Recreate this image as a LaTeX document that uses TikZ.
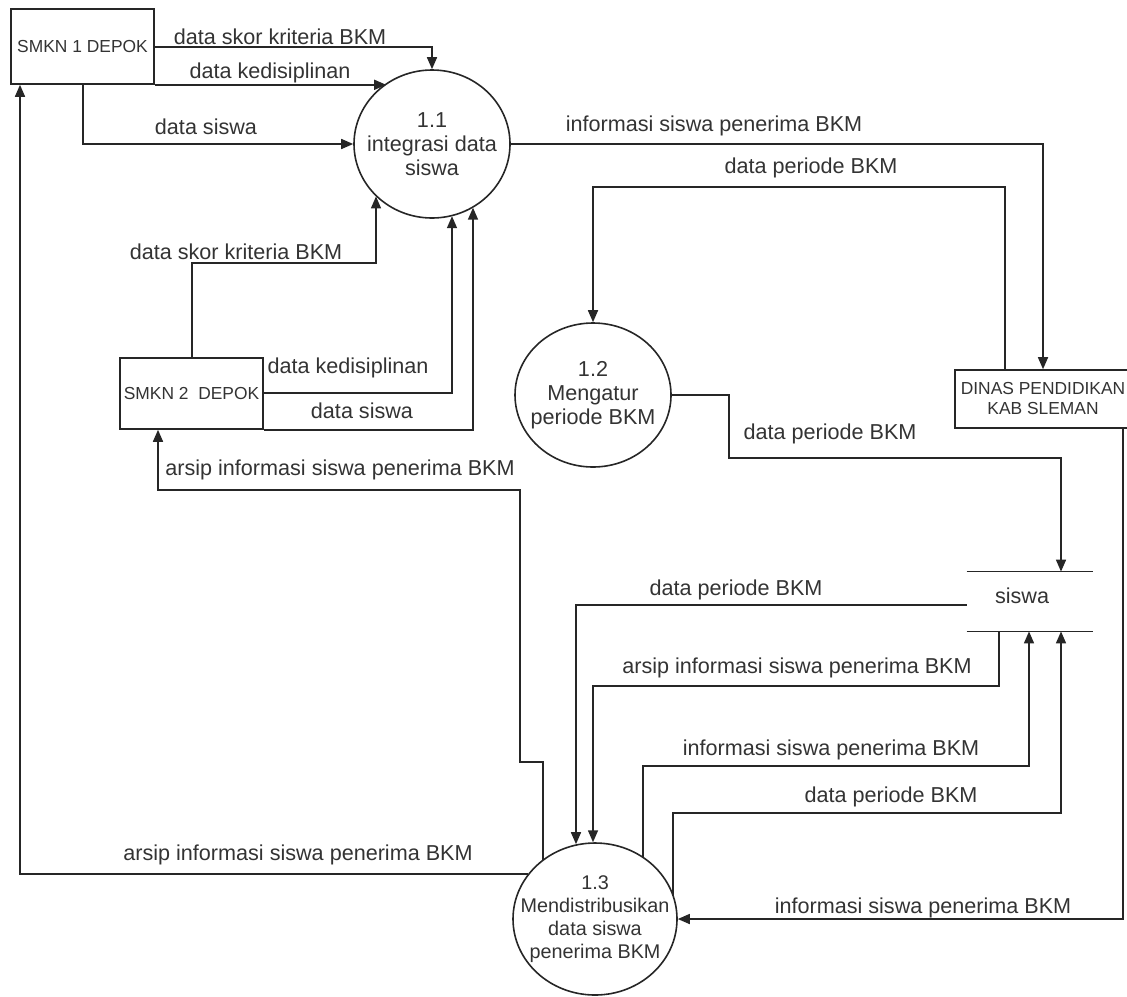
\documentclass[tikz,border=0pt]{standalone}
\usepackage{fontspec}
\setmainfont{Liberation Sans}
\usetikzlibrary{shapes.geometric,arrows.meta}
\begin{document}
\begin{tikzpicture}[x=0.5pt,y=-0.5pt,
  ln/.style={draw=black!85, line width=0.8pt},
  flow/.style={ln, -{Triangle[length=6pt,width=5pt]}},
  ent/.style={draw=black!85, line width=0.8pt, rectangle, inner sep=0pt,
    font=\fontsize{8.7}{10}\selectfont, align=center, text=black!80},
  proc/.style={draw=black!85, line width=0.8pt, ellipse, inner sep=0pt},
  ptext/.style={font=\fontsize{10.8}{12}\selectfont, align=center, text=black!80, inner sep=0pt},
  lab/.style={font=\fontsize{10.8}{12}\selectfont, text=black!80, inner sep=0pt},
]
\useasboundingbox (0,0) rectangle (1127,996);

% external entities
\node[ent, minimum width=71.5pt, minimum height=37.5pt] (s1) at (82.5,46.5) {SMKN 1 DEPOK};
\node[ent, minimum width=71.5pt, minimum height=35.5pt] (s2) at (191.5,393.5) {SMKN 2\ \ DEPOK};
\node[ent, minimum width=88pt, minimum height=29pt] (dn) at (1043,399) {DINAS PENDIDIKAN\\KAB SLEMAN};

% processes
\node[proc, minimum width=78pt, minimum height=74pt] (c11) at (432,144) {};
\node[ptext] at (c11) {1.1\\integrasi data\\siswa};
\node[proc, minimum width=78pt, minimum height=72pt] (c12) at (593,395) {};
\node[ptext] at (c12) {1.2\\Mengatur\\periode BKM};
\node[proc, minimum width=82pt, minimum height=76pt] (c13) at (595,919) {};
\node[ptext, font=\fontsize{9.9}{11.5}\selectfont] at (c13) {1.3\\Mendistribusikan\\data siswa\\penerima BKM};

% data store
\node[minimum width=63pt, minimum height=29.5pt, inner sep=0pt] (ds) at (1030,601.5) {};
\draw[ln] (ds.north west) -- (ds.north east);
\draw[ln] (ds.south west) -- (ds.south east);
\node[lab] at (1022,596) {siswa};

% flows SMKN 1 -> 1.1
\draw[flow] (s1.east |- 0,47) -| (c11.north);
\draw[flow] (s1.south east) -- (c11.127 |- s1.south east);
\draw[flow] (s1.south -| 83,0) |- (c11.west);
\node[lab] at (280,37) {data skor kriteria BKM};
\node[lab] at (270,73) {data kedisiplinan};
\node[lab] at (206,127) {data siswa};

% 1.1 -> DINAS
\draw[flow] (c11.east) -| (dn.north -| 1043,0);
\node[lab] at (714,126) {informasi siswa penerima BKM};

% DINAS -> 1.2
\draw[flow] (dn.north -| 1005,0) |- (c12.north |- 0,187) -- (c12.north);
\node[lab] at (811,168) {data periode BKM};

% SMKN 2 -> 1.1
\draw[flow] (s2.north -| 192,0) |- (376,263) -- (c11.223 -| 376,0);
\draw[flow] (s2.east |- 0,393) -| (c11.286 -| 452,0);
\draw[flow] (s2.south east) -| (c11.303 -| 473,0);
\node[lab] at (236,252) {data skor kriteria BKM};
\node[lab] at (348,368) {data kedisiplinan};
\node[lab] at (362,411) {data siswa};

% 1.2 -> siswa
\draw[flow] (c12.east) -| (729,458) -| (ds.north -| 1061,0);
\node[lab] at (830,434) {data periode BKM};

% siswa -> 1.3
\draw[flow] (ds.west |- 0,605) -| (c13.104 -| 576,0);
\node[lab] at (736,590) {data periode BKM};
\draw[flow] (ds.south -| 999,0) |- (593,686) -- (c13.92 -| 593,0);
\node[lab] at (797,668) {arsip informasi siswa penerima BKM};

% 1.3 -> siswa
\draw[flow] (c13.52 -| 643,0) |- (1029,766) -- (ds.south -| 1029,0);
\node[lab] at (831,750) {informasi siswa penerima BKM};
\draw[flow] (c13.17 -| 673,0) |- (1061,813) -- (ds.south -| 1061,0);
\node[lab] at (891,797) {data periode BKM};

% DINAS -> 1.3
\draw[flow] (dn.south -| 1123,0) |- (c13.east);
\node[lab] at (923,908) {informasi siswa penerima BKM};

% 1.3 -> SMKN 1
\draw[flow] (c13.146 |- 0,874) -| (s1.south -| 20,0);
\node[lab] at (298,855) {arsip informasi siswa penerima BKM};

% 1.3 -> SMKN 2
\draw[flow] (c13.132 -| 543,0) |- (520,762) |- (158,490) -- (s2.south -| 158,0);
\node[lab] at (340,470) {arsip informasi siswa penerima BKM};

\end{tikzpicture}
\end{document}
